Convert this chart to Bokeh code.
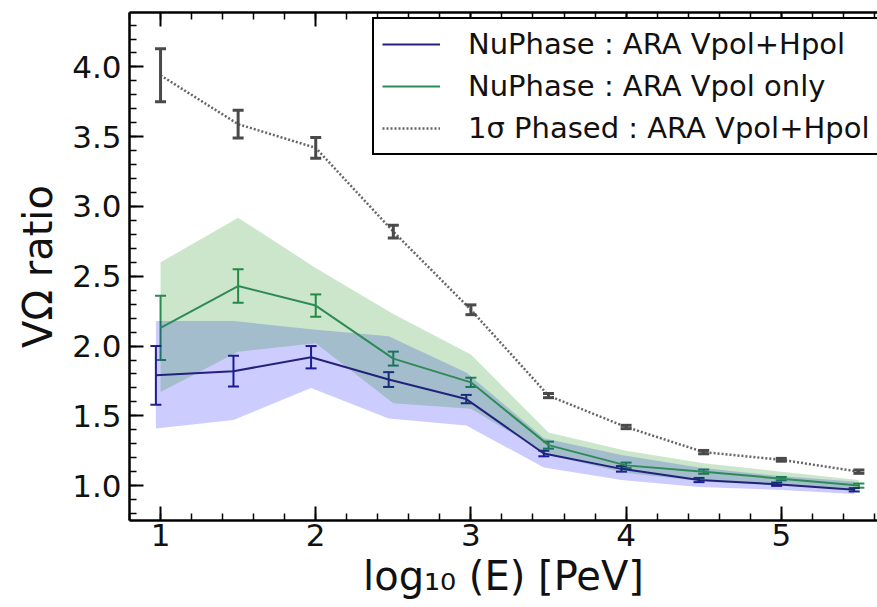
from bokeh.plotting import figure
from bokeh.models import (ColumnDataSource, Whisker, TeeHead, LinearAxis, FixedTicker,
                          Legend, LegendItem, Range1d, PrintfTickFormatter, CustomLabelingPolicy)
from bokeh.embed import file_html
from bokeh.resources import INLINE
import numpy as np

# ---------------- data ----------------
energy = [1.0, 1.5, 2.0, 2.5, 3.0, 3.5, 4.0, 4.5, 5.0, 5.5]
blue_shift = -0.03

# NuPhase : ARA Vpol+Hpol
vh_mean = [1.79, 1.82, 1.92, 1.76, 1.62, 1.23, 1.12, 1.04, 1.01, 0.97]
vh_err = [0.21, 0.11, 0.08, 0.053, 0.03, 0.02, 0.02, 0.015, 0.012, 0.012]
vh_lo = [1.41, 1.47, 1.70, 1.48, 1.43, 1.13, 1.04, 0.99, 0.97, 0.94]
vh_hi = [2.18, 2.18, 2.12, 2.07, 1.81, 1.34, 1.22, 1.13, 1.07, 1.03]

# NuPhase : ARA Vpol only
v_mean = [2.13, 2.43, 2.29, 1.91, 1.74, 1.29, 1.145, 1.10, 1.05, 1.00]
v_err = [0.23, 0.12, 0.08, 0.05, 0.033, 0.025, 0.02, 0.015, 0.012, 0.015]
v_lo = [1.67, 1.96, 2.02, 1.59, 1.55, 1.22, 1.09, 1.03, 1.00, 0.97]
v_hi = [2.60, 2.92, 2.56, 2.23, 1.94, 1.38, 1.25, 1.16, 1.10, 1.04]

# 1 sigma Phased : ARA Vpol+Hpol
p_mean = [3.94, 3.59, 3.42, 2.82, 2.26, 1.645, 1.42, 1.24, 1.185, 1.10]
p_err = [0.19, 0.10, 0.074, 0.045, 0.035, 0.015, 0.012, 0.012, 0.01, 0.012]

labels = ["NuPhase : ARA Vpol+Hpol", "NuPhase : ARA Vpol only", "1σ Phased : ARA Vpol+Hpol"]

x_ticks = [1, 2, 3, 4, 5]
y_ticks = [1.0, 1.5, 2.0, 2.5, 3.0, 3.5, 4.0]

# ---------------- styling ----------------
BLUE = "#22227c"
GREEN = "#2e8b57"
GREY = "#4a4a4a"
FONT = "DejaVu Sans"

bx = [e + blue_shift for e in energy]
src_b = ColumnDataSource(dict(x=bx, y=vh_mean, lo=vh_lo, hi=vh_hi,
                              up=[m + e for m, e in zip(vh_mean, vh_err)],
                              dn=[m - e for m, e in zip(vh_mean, vh_err)]))
src_g = ColumnDataSource(dict(x=energy, y=v_mean, lo=v_lo, hi=v_hi,
                              up=[m + e for m, e in zip(v_mean, v_err)],
                              dn=[m - e for m, e in zip(v_mean, v_err)]))
src_p = ColumnDataSource(dict(x=energy, y=p_mean,
                              up=[m + e for m, e in zip(p_mean, p_err)],
                              dn=[m - e for m, e in zip(p_mean, p_err)]))

p = figure(width=877, height=607, output_backend="svg", toolbar_location=None,
           x_range=Range1d(0.8, 5.62), y_range=Range1d(0.75, 4.39),
           x_axis_location=None, y_axis_location=None,
           min_border_left=129, min_border_right=0, min_border_top=12, min_border_bottom=87)
p.grid.visible = False
p.outline_line_color = None
p.background_fill_color = "white"
p.border_fill_color = "white"

# bands
p.varea(x="x", y1="lo", y2="hi", source=src_b, fill_color="blue", fill_alpha=0.2)
p.varea(x="x", y1="lo", y2="hi", source=src_g, fill_color="green", fill_alpha=0.2)

# lines
r_p = p.line("x", "y", source=src_p, line_color=GREY, line_width=2.5, line_dash="2 2", line_alpha=0.85)
r_g = p.line("x", "y", source=src_g, line_color=GREEN, line_width=2)
r_b = p.line("x", "y", source=src_b, line_color=BLUE, line_width=2)

def add_whisker(src, color, lw):
    w = Whisker(source=src, base="x", upper="up", lower="dn", dimension="height",
                line_color=color, line_width=lw,
                upper_head=TeeHead(size=11, line_color=color, line_width=lw),
                lower_head=TeeHead(size=11, line_color=color, line_width=lw))
    p.add_layout(w)

add_whisker(src_p, GREY, 3)
add_whisker(src_g, GREEN, 2)
add_whisker(src_b, BLUE, 2)

# axes
minor_x = list(np.round(np.arange(0.8, 5.7, 0.2), 2))
minor_y = list(np.round(np.arange(0.8, 4.4, 0.1), 2))

def style(ax):
    ax.axis_line_width = 2.5
    ax.axis_line_color = "black"
    ax.major_tick_in = 14
    ax.major_tick_out = 0
    ax.minor_tick_in = 7
    ax.minor_tick_out = 0
    ax.major_tick_line_width = 2
    ax.minor_tick_line_width = 1.5
    ax.major_label_text_font = FONT
    ax.major_label_text_font_size = "31px"
    ax.major_label_text_color = "#111111"
    ax.axis_label_text_font = FONT
    ax.axis_label_text_font_size = "40px"
    ax.axis_label_text_font_style = "normal"
    ax.axis_label_text_color = "#111111"

xb = LinearAxis(ticker=FixedTicker(ticks=x_ticks, minor_ticks=minor_x),
                axis_label="log₁₀ (E) [PeV]")
style(xb)
xb.major_label_standoff = 3
xb.axis_label_standoff = 4
p.add_layout(xb, "below")

yl = LinearAxis(ticker=FixedTicker(ticks=y_ticks, minor_ticks=minor_y),
                formatter=PrintfTickFormatter(format="%.1f"), axis_label="VΩ ratio")
style(yl)
yl.major_label_standoff = 8
yl.axis_label_standoff = 8
p.add_layout(yl, "left")

# mirrored top ticks, no labels
xt = LinearAxis(ticker=FixedTicker(ticks=x_ticks, minor_ticks=minor_x),
                major_label_policy=CustomLabelingPolicy(code="return []"))
style(xt)
xt.major_label_text_font_size = "0px"
xt.major_label_standoff = 0
p.add_layout(xt, "above")

legend = Legend(items=[LegendItem(label=labels[0], renderers=[r_b]),
                       LegendItem(label=labels[1], renderers=[r_g]),
                       LegendItem(label=labels[2], renderers=[r_p])],
                location=(243, 365),
                label_text_font=FONT, label_text_font_size="29px", label_text_color="#111111",
                glyph_width=58, glyph_height=24, label_height=24, spacing=8, padding=8,
                label_standoff=28, border_line_color="black", border_line_width=2,
                border_line_alpha=1.0,
                background_fill_color="white", background_fill_alpha=1.0, margin=0)
p.add_layout(legend)

open("out.html", "w").write(file_html(p, INLINE))
